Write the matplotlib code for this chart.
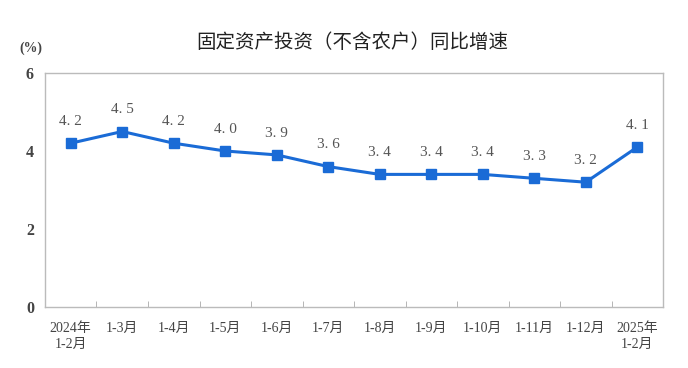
import matplotlib.pyplot as plt
import numpy as np

plt.rcParams['font.family'] = ['Liberation Serif', 'Noto Sans CJK SC']

categories = ['2024年\n1-2月', '1-3月', '1-4月', '1-5月', '1-6月', '1-7月', '1-8月',
              '1-9月', '1-10月', '1-11月', '1-12月', '2025年\n1-2月']
growth = [4.2, 4.5, 4.2, 4.0, 3.9, 3.6, 3.4, 3.4, 3.4, 3.3, 3.2, 4.1]
yticks = [0, 2, 4, 6]

fig = plt.figure(figsize=(6.88, 3.68), dpi=100)
ax = fig.add_axes([0.0654, 0.1658, 0.8983, 0.6358])

x = np.arange(len(categories))
ax.plot(x, growth, color='#1a6bd6', lw=2.2, marker='s', ms=6.5,
        markerfacecolor='#1a6bd6', markeredgecolor='#1a6bd6')
for xi, v in zip(x, growth):
    ax.annotate(f'{v:.1f}'.replace('.', '. '), (xi, v), xytext=(0, 11),
                textcoords='offset points', ha='center', va='bottom',
                fontsize=11, color='#555555')

ax.set_xlim(-0.5, len(categories) - 0.5)
ax.set_ylim(0, 6)
ax.set_yticks(yticks)
ax.set_xticks(x)
ax.set_xticklabels(categories, fontsize=10, color='#444444', linespacing=1.25)
ax.set_xticks(np.arange(len(categories) + 1) - 0.5, minor=True)
ax.tick_params(axis='x', which='major', length=0, pad=11)
ax.tick_params(axis='x', which='minor', direction='in', length=4, color='#aaaaaa')
ax.tick_params(axis='y', length=0, labelsize=11.5, labelcolor='#444444', pad=8)
for lab in ax.get_yticklabels():
    lab.set_fontweight('bold')
for s in ax.spines.values():
    s.set_color('#bbbbbb')
    s.set_linewidth(1.0)

fig.text(0.045, 0.86, '(%)', fontsize=10, color='#444444', ha='center', fontweight='bold')
fig.text(0.512, 0.87, '固定资产投资（不含农户）同比增速', fontsize=14, ha='center',
         color='#222222', family=['Noto Sans CJK SC'], fontweight='medium')

fig.savefig('out.png', dpi=100)
